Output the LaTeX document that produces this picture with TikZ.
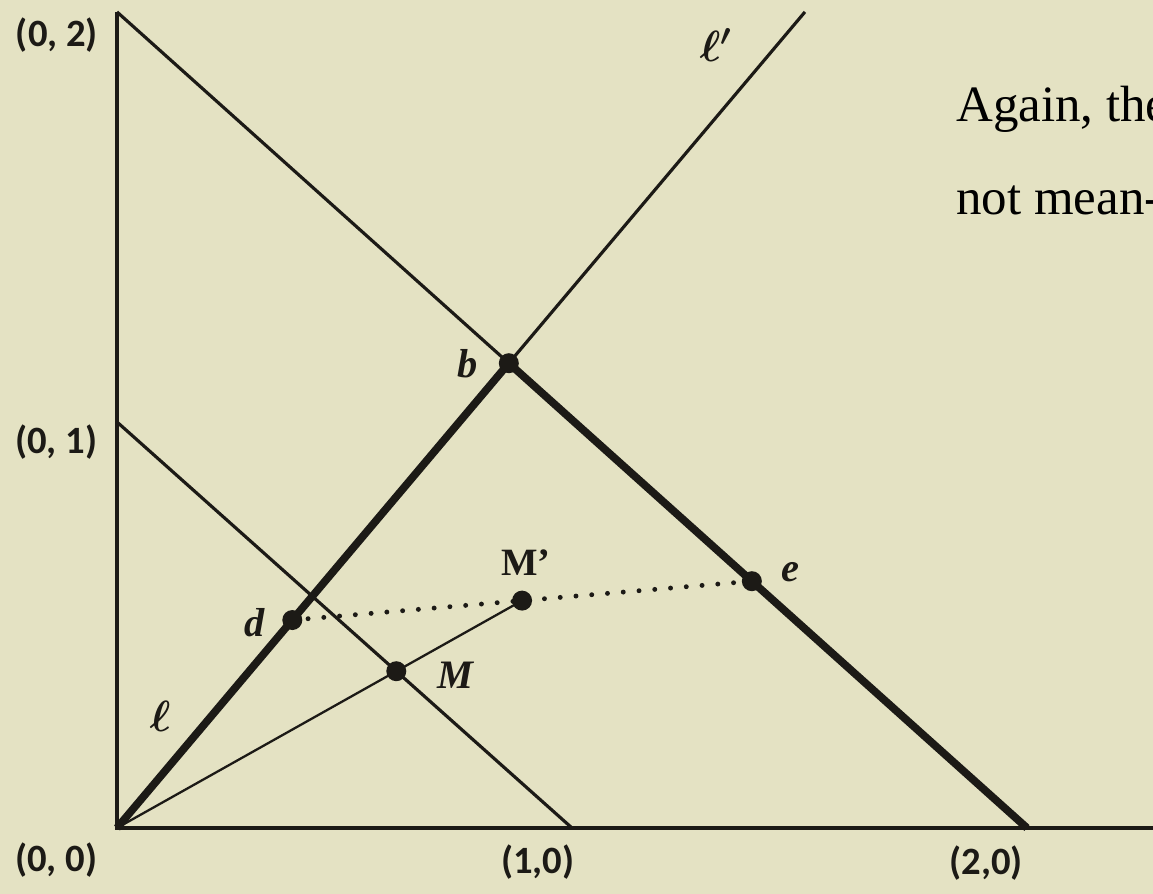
\documentclass[tikz,border=0pt]{standalone}
\usepackage{fontspec}
\setmainfont{Liberation Serif}
\newfontfamily\axisfont{Carlito}
\usetikzlibrary{calc}
\definecolor{paper}{HTML}{E4E2C3}
\definecolor{ink}{HTML}{1C1A16}
\tikzset{
  coordlabel/.style={font=\axisfont\bfseries\fontsize{22}{24}\selectfont,text=ink},
  pointlabel/.style={font=\bfseries\itshape\fontsize{23}{25}\selectfont,text=ink},
  elllabel/.style={font=\boldmath\fontsize{23}{25}\selectfont,text=ink},
  prose/.style={font=\fontsize{29}{34}\selectfont,text=black,anchor=base west},
  axisline/.style={draw=ink,line width=2pt},
  thinline/.style={draw=ink,line width=1.8pt},
  fineline/.style={draw=ink,line width=1.3pt},
  thickline/.style={draw=ink,line width=4.4pt,line join=round},
  dotline/.style={draw=ink,line width=2.8pt,line cap=round,dash pattern=on 0pt off 9pt},
  dot/.style={circle,fill=ink,inner sep=0pt,minimum size=0.4cm}
}
\begin{document}
\begin{tikzpicture}[x=9.1cm,y=8.12cm]
\path[use as bounding box,fill=paper] (-2.34cm,-1.32cm) rectangle (20.72cm,16.56cm);
\coordinate (O) at (0,0); \coordinate (Xone) at (1,0); \coordinate (Xtwo) at (2,0); \coordinate (Xend) at (2.3,0);
\coordinate (Yone) at (0,1); \coordinate (Ytwo) at (0,2.01); \coordinate (Ltop) at (1.512,2.01);
\coordinate (B) at (intersection of O--Ltop and Ytwo--Xtwo);
\coordinate (D) at ($(O)!0.4474!(B)$);
\coordinate (E) at ($(B)!0.469!(Xtwo)$);
\coordinate (Mp) at ($(D)!0.5!(E)$);
\coordinate (M) at (intersection of O--Mp and Yone--Xone);
\draw[axisline] (Ytwo) -- (O) -- (Xend);
\draw[thinline] (Ytwo) -- (B) -- (Ltop);
\draw[thinline] (Yone) -- (Xone);
\draw[thickline] (O) -- (B) -- (Xtwo);
\draw[fineline] (O) -- (Mp);
\draw[dotline] (D) -- (E);
\node[dot] (b) at (B) {}; \node[dot] (d) at (D) {}; \node[dot] (e) at (E) {};
\node[dot] (mp) at (Mp) {}; \node[dot] (m) at (M) {};
\node[coordlabel] (ytwolab) at (-0.132,1.953) {(0, 2)};
\node[coordlabel] (yonelab) at (-0.134,0.951) {(0, 1)};
\node[coordlabel] (olab) at (-0.134,-0.079) {(0, 0)};
\node[coordlabel] (xonelab) at (0.925,-0.084) {(1,0)};
\node[coordlabel] (xtwolab) at (1.910,-0.086) {(2,0)};
\node[elllabel] (lplab) at (1.316,1.929) {$\ell'$};
\node[elllabel] (llab) at (0.095,0.276) {$\ell$};
\node[pointlabel] (blab) at (0.771,1.143) {b};
\node[pointlabel] (dlab) at (0.303,0.505) {d};
\node[pointlabel] (elab) at (1.481,0.631) {e};
\node[pointlabel] (mlab) at (0.743,0.377) {M};
\node[font=\bfseries\fontsize{22}{24}\selectfont,text=ink] (mplab) at (0.899,0.653) {M'};
\node[prose] (lineone) at (1.831,1.741) {Again, the};
\node[prose] (linetwo) at (1.831,1.510) {not mean-};
\end{tikzpicture}
\end{document}
